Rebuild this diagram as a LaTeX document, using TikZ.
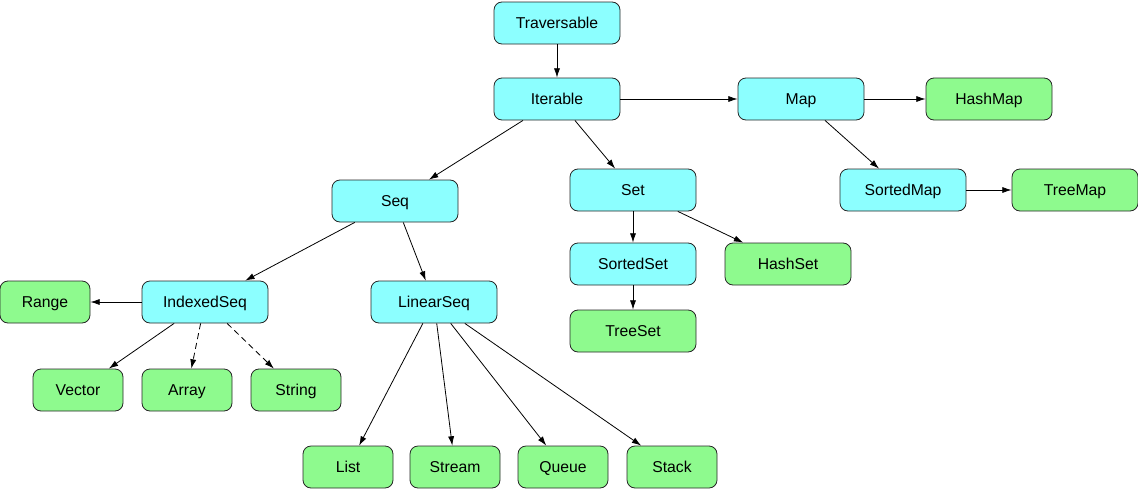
\documentclass[tikz,border=0pt]{standalone}
\usepackage{fontspec}
\setmainfont{Liberation Sans}
\usetikzlibrary{arrows.meta}
\definecolor{traitcol}{RGB}{140,255,255}
\definecolor{implcol}{RGB}{142,250,142}
\tikzset{
  box/.style={draw=black!85,rounded corners=6pt,line width=0.6pt,minimum height=31.5pt,
    text height=8.45pt,text depth=0pt,font=\fontsize{11.8}{13}\selectfont},
  trait/.style={box,fill=traitcol,minimum width=94.5pt},
  impl/.style={box,fill=implcol,minimum width=94.5pt},
  small/.style={impl,minimum width=67.5pt},
  weak/.style={dash pattern=on 4.5pt off 3pt},
}
\begin{document}
\begin{tikzpicture}[>={Latex[length=7pt,width=4.6pt]},x=0.75pt,y=-0.75pt,line width=0.6pt]
  \useasboundingbox (0,0) rectangle (1138,489);
  % traits
  \node[trait] (trav) at (557,23) {Traversable};
  \node[trait] (iter) at (557,99) {Iterable};
  \node[trait] (map) at (801,99) {Map};
  \node[trait] (seq) at (395,201) {Seq};
  \node[trait] (set) at (633,190) {Set};
  \node[trait] (smap) at (903,190) {SortedMap};
  \node[trait] (sset) at (633,264) {SortedSet};
  \node[trait] (iseq) at (205,302) {IndexedSeq};
  \node[trait] (lseq) at (434,302) {LinearSeq};
  % classes
  \node[impl] (hmap) at (989,99) {HashMap};
  \node[impl] (tmap) at (1075,190) {TreeMap};
  \node[impl] (hset) at (788,264) {HashSet};
  \node[impl] (tset) at (633,331) {TreeSet};
  \node[small] (range) at (45,302) {Range};
  \node[small] (vec) at (78,390) {Vector};
  \node[small] (arr) at (187,390) {Array};
  \node[small] (str) at (296,390) {String};
  \node[small] (list) at (348,467) {List};
  \node[small] (stream) at (455,467) {Stream};
  \node[small] (queue) at (563,467) {Queue};
  \node[small] (stack) at (672,467) {Stack};
  % edges
  \draw[->] (trav)--(iter);
  \draw[->] (iter)--(map);
  \draw[->] (iter)--(seq);
  \draw[->] (iter)--(set);
  \draw[->] (map)--(hmap);
  \draw[->] (map)--(smap);
  \draw[->] (smap)--(tmap);
  \draw[->] (set)--(sset);
  \draw[->] (set)--(hset);
  \draw[->] (sset)--(tset);
  \draw[->] (seq)--(iseq);
  \draw[->] (seq)--(lseq);
  \draw[->] (iseq)--(range);
  \draw[->] (iseq)--(vec);
  \draw[->,weak] (iseq)--(arr);
  \draw[->,weak] (iseq)--(str);
  \draw[->] (lseq)--(list);
  \draw[->] (lseq)--(stream);
  \draw[->] (lseq)--(queue);
  \draw[->] (lseq)--(stack);
\end{tikzpicture}
\end{document}
